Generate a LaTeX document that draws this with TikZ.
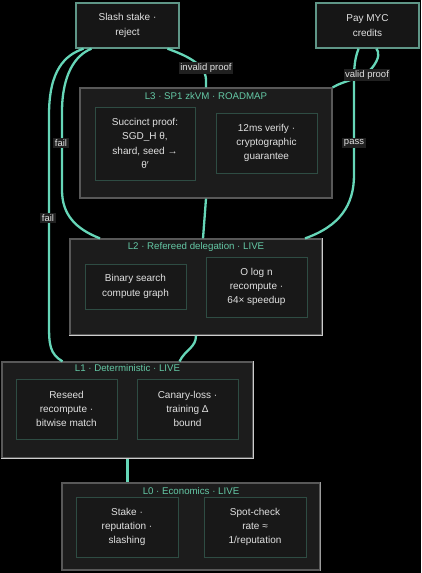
\documentclass[tikz,border=0pt]{standalone}
\usepackage{fontspec}
\setmainfont{Liberation Sans}
\usetikzlibrary{calc}
\definecolor{mint}{RGB}{102,214,184}
\definecolor{titlec}{RGB}{100,200,165}
\definecolor{outerfill}{RGB}{28,28,28}
\definecolor{outerdraw}{RGB}{88,88,88}
\definecolor{lightedge}{RGB}{205,205,205}
\definecolor{innerfill}{RGB}{24,24,24}
\definecolor{innerdraw}{RGB}{46,76,67}
\definecolor{topdraw}{RGB}{95,150,135}
\definecolor{topfill}{RGB}{22,22,22}
\definecolor{textc}{RGB}{225,225,225}
\definecolor{lblfill}{RGB}{32,32,32}
\begin{document}
\begin{tikzpicture}[x=1pt,y=-1pt,
  outerbox/.style={draw=outerdraw, fill=outerfill, line width=1.2pt, inner sep=0pt},
  innerbox/.style={draw=innerdraw, fill=innerfill, line width=1pt, text=textc, align=center,
    font=\fontsize{10}{14.4}\selectfont, inner sep=0pt},
  topbox/.style={draw=topdraw, fill=topfill, line width=1.4pt, text=textc, align=center,
    font=\fontsize{10}{14.4}\selectfont, inner sep=0pt},
  titletext/.style={text=titlec, font=\fontsize{9.7}{12}\selectfont, inner sep=0pt},
  link/.style={draw=mint, line width=2.3pt},
  lbl/.style={fill=lblfill, text=textc, font=\fontsize{9.5}{11}\selectfont, inner sep=1.5pt}]
\fill[black] (0,0) rectangle (421,573);
\useasboundingbox (0,0) rectangle (421,573);

% top boxes
\node[topbox, minimum width=103pt, minimum height=45pt] (slash) at (127.5,25.5) {Slash stake ·\\reject};
\node[topbox, minimum width=103pt, minimum height=45pt] (pay) at (367.5,25.5) {Pay MYC\\credits};

% L3
\node[outerbox, minimum width=252pt, minimum height=110pt] (l3) at (206,143) {};
\node[titletext] (l3t) at (206,96) {L3 · SP1 zkVM · ROADMAP};
\node[innerbox, minimum width=100pt, minimum height=73pt] (l3a) at (145,143.5) {Succinct proof:\\SGD\_H θ,\\shard, seed →\\θ′};
\node[innerbox, minimum width=101pt, minimum height=60pt] (l3b) at (266.5,143) {12ms verify ·\\cryptographic\\guarantee};

% L2
\node[outerbox, minimum width=252pt, minimum height=96pt] (l2) at (196,287) {};
\draw[lightedge, line width=1.2pt] (l2.south west) -- (l2.south east) -- (l2.north east);
\node[titletext] (l2t) at (196,247) {L2 · Refereed delegation · LIVE};
\node[innerbox, minimum width=101pt, minimum height=45pt] (l2a) at (135.5,286.5) {Binary search\\compute graph};
\node[innerbox, minimum width=101pt, minimum height=60pt] (l2b) at (256.5,287) {O log n\\recompute ·\\64× speedup};

% L1
\node[outerbox, minimum width=251pt, minimum height=96pt] (l1) at (127.5,410) {};
\draw[lightedge, line width=1.2pt] (l1.south west) -- (l1.south east) -- (l1.north east);
\node[titletext] (l1t) at (127.5,368) {L1 · Deterministic · LIVE};
\node[innerbox, minimum width=101pt, minimum height=60pt] (l1a) at (66.5,409) {Reseed\\recompute ·\\bitwise match};
\node[innerbox, minimum width=101pt, minimum height=60pt] (l1b) at (187.5,409) {Canary-loss ·\\training Δ\\bound};

% L0
\node[outerbox, minimum width=258pt, minimum height=87pt] (l0) at (191,526.5) {};
\draw[outerdraw!60!white, line width=1.2pt] (l0.south east) -- (l0.north east);
\node[titletext] (l0t) at (191,491) {L0 · Economics · LIVE};
\node[innerbox, minimum width=102pt, minimum height=60pt] (l0a) at (127,527) {Stake ·\\reputation ·\\slashing};
\node[innerbox, minimum width=102pt, minimum height=60pt] (l0b) at (255,527) {Spot-check\\rate ≈\\1/reputation};

% connectors
\draw[link] (l1.south |- l0.north) -- (l1.south);
\draw[link] ([xshift=52pt]l1.north) .. controls +(6,-12) and +(0,12) .. (l2.south);
\draw[link] ([xshift=7pt]l2.north) -- (l3.south);
\draw[link] ([xshift=-65pt]l1.north) .. controls (50,354) and (49,345) .. (49,325)
  -- (49,115) .. controls (49,70) and (65,55) .. ([xshift=-44pt]slash.south);
\draw[link] ([xshift=-96pt]l2.north) .. controls (76,229) and (62,215) .. (62,190)
  -- (62,112) .. controls (62,75) and (75,55) .. ([xshift=-36pt]slash.south);
\draw[link] (l3.north) -- (206,80) .. controls (206,64) and (185,55) .. ([xshift=40pt]slash.south);
\draw[link] (l3.north east) .. controls (345,80) and (365,78) .. (372,68)
  .. controls (380,58) and (379,52) .. ([xshift=9pt]pay.south);
\draw[link] ([xshift=109pt]l2.north) .. controls (340,226) and (354,205) .. (354,175)
  -- (354,80) .. controls (354,62) and (356,56) .. ([xshift=-9pt]pay.south);

% labels
\node[lbl] (linv) at (206,68) {invalid proof};
\node[lbl] (lval) at (367,75) {valid proof};
\node[lbl] (lpass) at (354,143) {pass};
\node[lbl] (lfail1) at (61,143) {fail};
\node[lbl] (lfail2) at (48,218) {fail};
\end{tikzpicture}
\end{document}
